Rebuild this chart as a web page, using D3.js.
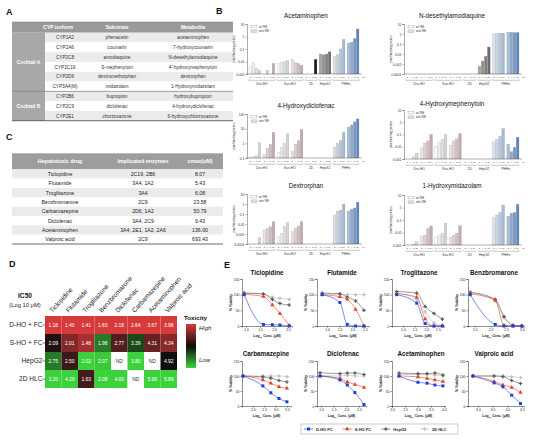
<!DOCTYPE html>
<html><head><meta charset="utf-8">
<script src="https://cdn.jsdelivr.net/npm/d3@7"></script>
<style>body{margin:0;background:#fff} svg{display:block}</style>
</head><body><svg id="c" width="535" height="441"></svg>
<script>
// ---------------- DATA ----------------
// Panel A
const cypGroups = ["Cocktail A", "Cocktail B"];
const cypGroupRows = [[0, 5], [6, 8]];
const cypIsoforms = ["CYP1A2","CYP2A6","CYP2C8","CYP2C19","CYP2D6","CYP3A4(M)","CYP2B6","CYP2C9","CYP2E1"];
const cypSubstrates = ["phenacetin","coumarin","amodiaquine","S-mephenytoin","dextromethorphan","midazolam","bupropion","diclofenac","chorzoxazone"];
const cypMetabolites = ["acetaminophen","7-hydroxycoumarin","N-desethylamodiaquine","4'-hydroxymephenytoin","dextrorphan","1-Hydroxymidazolam","hydroxybupropion","4-hydroxydiclofenac","6-hydroxychlorzoxazone"];
const cypHeaders = ["CYP isoform", "Substrate", "Metabolite"];

// Panel C
const cHeaders = ["Hepatotoxic drug", "Implicated enzymes", "cmax(uM)"];
const cDrugs = ["Ticlopidine","Flutamide","Troglitazone","Benzbromarone","Carbamazepine","Diclofenac","Acetaminophen","Valproic acid"];
const cEnzymes = ["2C19, 2B6","3A4, 1A2","3A4","2C9","2D6, 1A2","3A4, 2C9","3A4, 2E1, 1A2, 2A6","2C9"];
const cCmax = ["8.07","5.43","6.08","23.58","50.79","9.43","136.00","693.43"];

// Panel D
const icDrugs = ["Ticlopidine","Flutamide","Troglitazone","Benzbromarone","Diclofenac","Carbamazepine","Acetaminophen","Valproic acid"];
const icModels = ["D-HO + FC","S-HO + FC","HepG2","2D HLC"];
const icValues = [
  [1.18, 1.40, 1.41, 1.63, 2.18, 2.64, 3.67, 3.98],
  [2.09, 2.01, 1.48, 1.98, 2.77, 3.39, 4.31, 4.34],
  [2.75, 2.50, 2.02, 2.07, null, 3.80, null, 4.92],
  [3.20, 4.29, 1.63, 2.08, 4.00, null, 5.96, 5.89]
];

// Panel B
const bTimes = ["2","4","8","24"];
const bGroups = ["Dro-HO","Sus-HO","2D","HepG2","PHHs"];
const bGroupClusters = [[0,1],[2,3],[4,4],[5,5],[6,7]];
const bLegend = ["w/ RE", "w/o RE"];
const bTitles = ["Acetaminophen","N-desethylamodiaquine","4-Hydroxydiclofenac","4-Hydroxymephenytoin","Dextrorphan","1-Hydroxymidazolam"];
const bTicks = [
  [10,1,0.1,0.01,0.001],
  [10,1,0.1,0.01,0.001,0.0001],
  [100,10,1,0.1],
  [10,1,0.1,0.01,0.001],
  [10,1,0.1,0.01,0.001,0.0001],
  [10,1,0.1,0.01,0.001]
];
const bAcetaminophen = [
  [0.004,0.008,0.003,0.002],[0,0.002,0,0.007],[0.007,0.008,0.01,0.012],[0.015,0.008,0.007,0.005],
  [0,0,0,0.015],[0.04,0.035,0.04,0.06],[0.025,0.035,0.1,0.6],[0.3,0.35,0.7,4]
];
const bNdesethyl = [
  [0,0,0,0],[0,0,0,0],[0,0,0,0],[0,0,0,0],
  [0,0,0,0],[0.0006,0.002,0.006,0.05],[1.0,1.1,1.2,1.2],[1.5,1.5,1.4,1.4]
];
const bHydroxydiclofenac = [
  [0.11,0.12,0.14,1.1],[0.18,0.45,0.85,5.5],[0.25,0.5,1.0,4.5],[0.3,0.9,1.5,9],
  [0,0,0,0],[0,0,0,0],[0.55,1.0,1.6,5.5],[13,18,29,46]
];
const bHydroxymephenytoin = [
  [0,0,0.0015,0.003],[0.008,0.02,0.03,0.1],[0.011,0.024,0.04,0.1],[0.013,0.03,0.045,0.12],
  [0,0,0,0],[0,0,0,0],[0.025,0.04,0.07,0.3],[0.016,0.004,0.009,0.06]
];
const bDextrorphan = [
  [0,0,0,0.00043],[0.0025,0.0037,0.0054,0.017],[0.00063,0.0012,0.0054,0.013],[0.0017,0.0037,0.0063,0.017],
  [0,0,0,0],[0,0,0,0],[0.08,0.2,0.25,1],[0.2,0.3,0.4,1.5]
];
const bHydroxymidazolam = [
  [0,0,0.0012,0.0018],[0.0046,0.0063,0.021,0.033],[0.004,0.0063,0.0086,0.054],[0.004,0.0063,0.009,0.035],
  [0,0,0,0],[0,0,0,0],[0.15,0.25,0.4,1.6],[0.2,0.35,0.4,1.8]
];
const bData = [bAcetaminophen,bNdesethyl,bHydroxydiclofenac,bHydroxymephenytoin,bDextrorphan,bHydroxymidazolam];

// Panel E
const eDrugs = ["Ticlopidine","Flutamide","Troglitazone","Benzbromarone","Carbamazepine","Diclofenac","Acetaminophen","Valproic acid"];
const eSeries = ["D-HO FC","S-HO FC","HepG2","2D HLC"];
const eConc = [
  [0.93,1.62,1.94,2.21,2.54],
  [0.81,1.51,1.80,2.13,2.46],
  [0.73,1.59,1.95,2.33,2.69],
  [1.35,2.15,2.43,2.72,3.00],
  [1.56,2.44,2.79,3.15,3.50],
  [0.96,1.75,2.04,2.34,2.70],
  [2.27,3.00,3.35,3.65,3.96],
  [2.83,3.55,3.85,4.15,4.45]
];
const eXTicks = [
  [1.0,1.5,2.0,2.5],[1.0,1.5,2.0,2.5],[1.0,1.5,2.0,2.5],[1.5,2.0,2.5,3.0],
  [2.0,2.5,3.0,3.5],[1.0,1.5,2.0,2.5],[2.0,2.5,3.0,3.5,4.0],[3.0,3.5,4.0,4.5]
];
const eYTicks = [0,50,100,150];
const eDHO = [
  [100,5,4,3,0],[100,75,5,0,0],[100,73,8,0,0],[100,5,0,0,0],
  [100,67,44,25,14],[100,87,70,45,5],[100,79,76,70,67],[100,77,64,36,8]
];
const eSHO = [
  [101,94,67,40,2],[100,93,85,53,0],[103,92,22,0,0],[103,82,2,0,0],
  [100,87,76,64,59],[100,92,80,72,62],[100,97,92,87,82],[100,82,70,62,45]
];
const eHepG2 = [
  [105,102,85,72,67],[105,103,92,80,50],[110,105,62,40,22],[108,85,30,2,0],
  [100,97,93,85,80],[111,108,110,110,105],[110,108,108,110,103],[100,100,98,85,75]
];
const eHLC = [
  [105,103,92,88,85],[102,100,100,100,100],[105,85,45,10,2],[105,80,28,2,0],
  [100,100,100,100,98],[102,100,103,100,100],[105,105,105,103,100],[100,100,100,98,95]
];

// ---------------- DRAWING ----------------
const F = "'Liberation Sans', Arial, Helvetica, sans-serif";
const svg = d3.select("#c").attr("font-family", F);
svg.append("rect").attr("width",535).attr("height",441).attr("fill","#fff");

function txt(g, x, y, s, o = {}) {
  const t = g.append("text").attr("x", x).attr("y", y).text(s)
    .attr("font-size", o.size || 5).attr("fill", o.fill || "#222")
    .attr("text-anchor", o.anchor || "middle").attr("font-weight", o.weight || "normal");
  if (o.style) t.attr("font-style", o.style);
  if (o.rotate != null) t.attr("transform", `rotate(${o.rotate},${x},${y})`);
  return t;
}

// Panel letters
[["A",6,15],["B",216,14],["C",6,140],["D",9,267],["E",224,268]].forEach(([s,x,y]) =>
  txt(svg, x, y, s, {size: 9, weight: "bold", anchor: "start", fill: "#111"}));

// ---------- Panel A ----------
(function(){
  const g = svg.append("g");
  const x0 = 12, gx = 45, x1 = 233, y0 = 22, hh = 10.7;
  const rows = d3.scaleBand().domain(d3.range(cypIsoforms.length)).range([y0 + hh, y0 + hh + 9 * 9.78]);
  g.append("rect").attr("x", x0).attr("y", y0).attr("width", x1 - x0).attr("height", hh).attr("fill", "#9a9a9a");
  const hx = [58, 117, 193];
  cypHeaders.forEach((h, i) => txt(g, hx[i], y0 + hh / 2 + 1.8, h, {size: 5, weight: "bold", fill: "#fff"}));
  cypIsoforms.forEach((d, i) => {
    const y = rows(i);
    g.append("rect").attr("x", gx).attr("y", y).attr("width", x1 - gx).attr("height", rows.bandwidth())
      .attr("fill", i % 2 === 0 ? "#ebebeb" : "#fff");
    const cy = y + rows.bandwidth() / 2 + 1.7;
    txt(g, 65, cy, d, {size: 4.7, fill: "#333"});
    txt(g, 117, cy, cypSubstrates[i], {size: 4.7, fill: "#333"});
    txt(g, 193, cy, cypMetabolites[i], {size: 4.7, fill: "#333"});
  });
  cypGroups.forEach((name, k) => {
    const [a, b] = cypGroupRows[k];
    const ya = rows(a), yb = rows(b) + rows.bandwidth();
    g.append("rect").attr("x", x0).attr("y", ya).attr("width", gx - x0).attr("height", yb - ya).attr("fill", "#a8a8a8");
    txt(g, (x0 + gx) / 2, (ya + yb) / 2 + 1.8, name, {size: 4.8, weight: "bold", fill: "#fff"});
  });
  g.append("line").attr("x1", x0).attr("x2", x1).attr("y1", rows(6)).attr("y2", rows(6)).attr("stroke", "#666").attr("stroke-width", 0.6);
  const yEnd = rows(8) + rows.bandwidth();
  g.append("line").attr("x1", x0).attr("x2", x1).attr("y1", yEnd).attr("y2", yEnd).attr("stroke", "#444").attr("stroke-width", 0.8);
  g.append("line").attr("x1", x0).attr("x2", x1).attr("y1", y0).attr("y2", y0).attr("stroke", "#777").attr("stroke-width", 0.5);
})();

// ---------- Panel C ----------
(function(){
  const g = svg.append("g");
  const x0 = 12, x1 = 223, y0 = 153.3, hh = 16;
  const rows = d3.scaleBand().domain(d3.range(cDrugs.length)).range([y0 + hh, 244]);
  g.append("rect").attr("x", x0).attr("y", y0).attr("width", x1 - x0).attr("height", hh).attr("fill", "#9d9d9d");
  const hx = [60, 143, 200];
  cHeaders.forEach((h, i) => txt(g, hx[i], y0 + hh / 2 + 2, h, {size: 5.4, weight: "bold", fill: "#fff"}));
  cDrugs.forEach((d, i) => {
    const y = rows(i);
    g.append("rect").attr("x", x0).attr("y", y).attr("width", x1 - x0).attr("height", rows.bandwidth())
      .attr("fill", i % 2 === 0 ? "#ebebeb" : "#fff");
    const cy = y + rows.bandwidth() / 2 + 1.9;
    txt(g, hx[0], cy, d, {size: 5.2, fill: "#222"});
    txt(g, hx[1], cy, cEnzymes[i], {size: 5.2, fill: "#222"});
    txt(g, hx[2], cy, cCmax[i], {size: 5.2, fill: "#222"});
  });
  g.append("line").attr("x1", x0).attr("x2", x1).attr("y1", 244).attr("y2", 244).attr("stroke", "#444").attr("stroke-width", 0.8);
})();

// ---------- Panel D ----------
(function(){
  const g = svg.append("g");
  const xD = d3.scaleBand().domain(icDrugs).range([45, 177]);
  const yD = d3.scaleBand().domain(icModels).range([316, 388]);
  const color = d3.scaleLinear().domain([0, 0.5, 1]).range(["#d63a3a", "#0d0d0d", "#3cd23c"]);
  icDrugs.forEach((drug, j) => {
    const col = icValues.map(r => r[j]).filter(v => v != null);
    const mn = d3.min(col), mx = d3.max(col);
    icModels.forEach((m, i) => {
      const v = icValues[i][j];
      const x = xD(drug), y = yD(m);
      g.append("rect").attr("x", x).attr("y", y).attr("width", xD.bandwidth()).attr("height", yD.bandwidth())
        .attr("fill", v == null ? "#fff" : color((v - mn) / (mx - mn)));
      txt(g, x + xD.bandwidth() / 2, y + yD.bandwidth() / 2 + 1.8, v == null ? "ND" : v.toFixed(2),
        {size: 5, fill: v == null ? "#333" : "#fff"});
    });
    const cx = xD(drug) + xD.bandwidth() / 2 - 1;
    txt(g, cx, 313, drug, {size: 6.5, anchor: "start", rotate: -48, fill: "#222"});
  });
  icModels.forEach(m => {
    const cy = yD(m) + yD.bandwidth() / 2;
    txt(g, 42.5, cy + 2.3, m, {size: 6.6, anchor: "end", fill: "#222"});
    g.append("line").attr("x1", 42.6).attr("x2", 45).attr("y1", cy).attr("y2", cy).attr("stroke", "#222").attr("stroke-width", 0.6);
  });
  txt(g, 25, 298, "IC50", {size: 6.6, weight: "bold", fill: "#111"});
  txt(g, 25, 306.5, "(Log 10 \u03BCM)", {size: 5.8, fill: "#222"});
  const defs = svg.append("defs");
  const lg = defs.append("linearGradient").attr("id", "tox").attr("x1", 0).attr("x2", 0).attr("y1", 0).attr("y2", 1);
  [[0, "#d63a3a"], [0.5, "#0d0d0d"], [1, "#3cd23c"]].forEach(([o, c]) => lg.append("stop").attr("offset", o).attr("stop-color", c));
  txt(g, 184, 319.5, "Toxicity", {size: 6.2, weight: "bold", anchor: "start", fill: "#111"});
  g.append("rect").attr("x", 186).attr("y", 324).attr("width", 10).attr("height", 44).attr("fill", "url(#tox)");
  txt(g, 199, 330, "High", {size: 6, style: "italic", anchor: "start", fill: "#222"});
  txt(g, 199, 362, "Low", {size: 6, style: "italic", anchor: "start", fill: "#222"});
})();

// ---------- Panel B ----------
const bLayout = [
  {ax: 247, x0: 248, x1: 362, yT: 24, yB: 74, tx: 306, ty: 18},
  {ax: 404, x0: 405, x1: 522, yT: 24, yB: 74, tx: 452, ty: 18},
  {ax: 247, x0: 248, x1: 362, yT: 114, yB: 158, tx: 306, ty: 108},
  {ax: 404, x0: 405, x1: 522, yT: 110, yB: 159, tx: 452, ty: 106},
  {ax: 247, x0: 248, x1: 362, yT: 194, yB: 244, tx: 306, ty: 188},
  {ax: 404, x0: 405, x1: 522, yT: 195, yB: 245, tx: 452, ty: 188}
];
const bShade = [
  ["#fbfbfb","#efefef","#e3e3e3","#d6d6d6"],
  ["#eee2e3","#e0cfd0","#d3bdbf","#c4abae"],
  ["#fbfbfb","#efefef","#e3e3e3","#d6d6d6"],
  ["#eee2e3","#e0cfd0","#d3bdbf","#c4abae"],
  ["#1a1a1a","#1a1a1a","#1a1a1a","#1a1a1a"],
  ["#a3a3a3","#909090","#7e7e7e","#6c6c6c"],
  ["#dbe4ee","#c9d6e5","#b7c8dc","#a6bad3"],
  ["#a6bdd8","#8ca9cf","#7397c6","#5b85bf"]
];
function drawB(ci) {
  const L = bLayout[ci], data = bData[ci], ticks = bTicks[ci];
  const g = svg.append("g");
  const y = d3.scaleLog().domain([d3.min(ticks), d3.max(ticks)]).range([L.yB, L.yT]);
  const xc = d3.scaleBand().domain(d3.range(8)).range([L.x0 + 1, L.x1 - 3]).paddingInner(0.16);
  const xt = d3.scaleBand().domain(bTimes).range([0, xc.bandwidth()]).paddingInner(0.12);
  txt(g, L.tx, L.ty, bTitles[ci], {size: 6.3, fill: "#111"});
  data.forEach((cl, c) => cl.forEach((v, t) => {
    if (v > d3.min(ticks)) {
      g.append("rect").attr("x", xc(c) + xt(bTimes[t])).attr("y", y(v)).attr("width", xt.bandwidth())
        .attr("height", L.yB - y(v)).attr("fill", bShade[c][t]).attr("stroke", c === 4 ? "none" : "#8a8a8a").attr("stroke-width", 0.2);
    }
  }));
  const ya = g.append("g").attr("transform", `translate(${L.ax},0)`)
    .call(d3.axisLeft(y).tickValues(ticks).tickFormat(d3.format("~g")).tickSize(1.5).tickPadding(1));
  ya.attr("font-size", 3.4).attr("font-family", F);
  ya.selectAll("text").attr("fill", "#333");
  ya.selectAll("path,line").attr("stroke", "#333").attr("stroke-width", 0.4);
  g.append("line").attr("x1", L.ax).attr("x2", L.x1).attr("y1", L.yB).attr("y2", L.yB).attr("stroke", "#333").attr("stroke-width", 0.4);
  for (let c = 0; c < 8; c++) bTimes.forEach(t =>
    txt(g, xc(c) + xt(t) + xt.bandwidth() / 2, L.yB + 3.6, t, {size: 2.3, fill: "#333"}));
  txt(g, L.x1 + 0.5, L.yB + 3.6, "hr", {size: 2.3, anchor: "start", fill: "#333"});
  bGroups.forEach((name, k) => {
    const [a, b] = bGroupClusters[k];
    const xa = xc(a), xb = xc(b) + xc.bandwidth();
    const yy = L.yB + 6.3;
    g.append("path").attr("d", `M${xa},${yy - 1}V${yy}H${xb}V${yy - 1}`).attr("fill", "none").attr("stroke", "#444").attr("stroke-width", 0.3);
    txt(g, (xa + xb) / 2, L.yB + 10.8, name, {size: 3.3, fill: "#333"});
  });
  txt(g, L.ax - 12, (L.yT + L.yB) / 2, "pmol/min/mg protein", {size: 3, rotate: -90, fill: "#333"});
  bLegend.forEach((s, k) => {
    g.append("rect").attr("x", L.ax + 4).attr("y", L.yT + 1.3 + k * 4.6).attr("width", 6).attr("height", 2.6)
      .attr("fill", k === 0 ? "#fff" : "#e8d8da").attr("stroke", k === 0 ? "#777" : "#a88").attr("stroke-width", 0.3);
    txt(g, L.ax + 12, L.yT + 3.6 + k * 4.6, s, {size: 3.1, anchor: "start", fill: "#333"});
  });
}
for (let i = 0; i < 6; i++) drawB(i);

// ---------- Panel E ----------
const eLayout = [
  {ax: 242, x1: 292, dom: [0.857, 2.64], yT: 279, yB: 326, tx: 267, ty: 275},
  {ax: 317, x1: 369, dom: [0.605, 2.66], yT: 279, yB: 326, tx: 342, ty: 275},
  {ax: 392, x1: 444, dom: [0.53, 2.76], yT: 279, yB: 326, tx: 419, ty: 275},
  {ax: 468, x1: 524, dom: [1.28, 3.07], yT: 279, yB: 326, tx: 494, ty: 275},
  {ax: 242, x1: 291, dom: [1.52, 3.68], yT: 361, yB: 406, tx: 266, ty: 356},
  {ax: 317, x1: 366, dom: [0.84, 2.78], yT: 361, yB: 406, tx: 343, ty: 356},
  {ax: 392, x1: 445, dom: [2.0, 4.04], yT: 361, yB: 406, tx: 421, ty: 356},
  {ax: 468, x1: 524, dom: [2.66, 4.57], yT: 361, yB: 406, tx: 494, ty: 356}
];
const eStyle = [
  {c: "#1e3fe0", sym: d3.symbolSquare, size: 9},
  {c: "#e8431f", sym: d3.symbolTriangle, size: 8},
  {c: "#555555", sym: d3.symbolCross, size: 7},
  {c: "#bdbdbd", sym: d3.symbolCross, size: 7}
];
function drawE(i) {
  const L = eLayout[i];
  const g = svg.append("g");
  const x = d3.scaleLinear().domain(L.dom).range([L.ax, L.x1]);
  const y = d3.scaleLinear().domain([0, 150]).range([L.yB, L.yT]);
  txt(g, L.tx, L.ty, eDrugs[i], {size: 6.3, weight: "bold", fill: "#111"});
  const ya = g.append("g").attr("transform", `translate(${L.ax},0)`)
    .call(d3.axisLeft(y).tickValues(eYTicks).tickSize(1.5).tickPadding(1));
  const xa = g.append("g").attr("transform", `translate(0,${L.yB})`)
    .call(d3.axisBottom(x).tickValues(eXTicks[i]).tickFormat(d3.format(".1f")).tickSize(1.5).tickPadding(1));
  [ya, xa].forEach(a => { a.attr("font-size", 3.4).attr("font-family", F);
    a.selectAll("text").attr("fill", "#222");
    a.selectAll("path,line").attr("stroke", "#222").attr("stroke-width", 0.5); });
  txt(g, L.ax - 10.5, (L.yT + L.yB) / 2, "% Viability", {size: 3.4, weight: "bold", rotate: -90, fill: "#222"});
  const xl = txt(g, (L.ax + L.x1) / 2, L.yB + 10.5, "Log", {size: 3.4, weight: "bold", fill: "#222"});
  xl.append("tspan").attr("font-size", 2.4).attr("dy", 1).text("10");
  xl.append("tspan").attr("dy", -1).text(" Conc. (\u03BCM)");
  const all = [eDHO[i], eSHO[i], eHepG2[i], eHLC[i]];
  const line = d3.line().x((d, j) => x(eConc[i][j])).y(d => y(d)).curve(d3.curveMonotoneX);
  for (let s = 3; s >= 0; s--) {
    const st = eStyle[s];
    g.append("path").attr("d", line(all[s])).attr("fill", "none").attr("stroke", st.c).attr("stroke-width", 0.6);
    all[s].forEach((v, j) => g.append("path").attr("d", d3.symbol(st.sym, st.size)())
      .attr("transform", `translate(${x(eConc[i][j])},${y(v)})`).attr("fill", st.c));
  }
}
for (let i = 0; i < 8; i++) drawE(i);

// E legend
(function(){
  const g = svg.append("g");
  g.append("rect").attr("x", 301).attr("y", 424).attr("width", 157).attr("height", 10).attr("fill", "#fff").attr("stroke", "#999").attr("stroke-width", 0.5);
  const lx = d3.scalePoint().domain(eSeries).range([304, 420]);
  eSeries.forEach((s, k) => {
    const st = eStyle[k], x = lx(s);
    g.append("line").attr("x1", x).attr("x2", x + 9).attr("y1", 429).attr("y2", 429).attr("stroke", st.c).attr("stroke-width", 0.7);
    g.append("path").attr("d", d3.symbol(st.sym, st.size)()).attr("transform", `translate(${x + 4.5},429)`).attr("fill", st.c);
    txt(g, x + 12, 430.5, s, {size: 4, weight: "bold", anchor: "start", fill: "#222"});
  });
})();
</script></body></html>
